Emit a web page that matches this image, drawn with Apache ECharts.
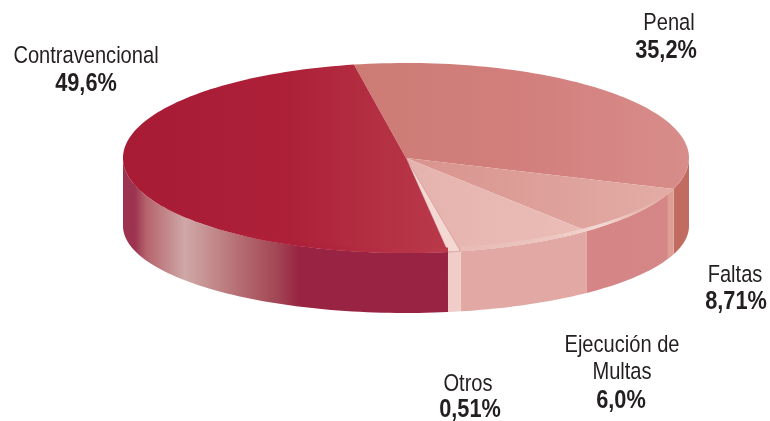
<!DOCTYPE html>
<html>
<head>
<meta charset="utf-8">
<style>html,body{margin:0;background:#fff}#chart{width:770px;height:421px}</style>
<script src="https://cdn.jsdelivr.net/npm/echarts@6/dist/echarts.min.js"></script>
</head>
<body>
<div id="chart"></div>
<script>
// clockwise from the top of the disc
const categories = ['Penal', 'Faltas', 'Ejecución de\nMultas', 'Otros', 'Contravencional'];
const values = [35.2, 8.71, 6.0, 0.51, 49.6];
const valueLabels = ['35,2%', '8,71%', '6,0%', '0,51%', '49,6%'];

// disc projection
const cx = 406, topY = 158, topRy = 95, rx = 283;
const bottomY = 226, bottomRy = 87;
const startAngle = -7.5, tiltWarp = 12;

const grad = (x, x2, stops) => ({
  type: 'linear', x: x, y: 0, x2: x2, y2: 0, global: true,
  colorStops: stops.map(s => ({ offset: s[0], color: s[1] }))
});

const topFill = [
  grad(358, 689, [[0, '#cd7c74'], [0.5, '#d27f7d'], [1, '#d88d8a']]),
  grad(406, 672, [[0, '#d9938d'], [1, '#e2aca5']]),
  grad(406, 585, [[0, '#e5b3ad'], [1, '#ebbdb7']]),
  '#f3d8d3',
  grad(123, 455, [[0, '#a81b35'], [0.5, '#ad2038'], [0.7, '#b22c40'], [1, '#b93a4b']])
];
const wallFill = [
  '#c26b61',
  grad(585, 672, [[0, '#d58585'], [0.94, '#d58686'], [0.96, '#dd9f95'], [1, '#dd9f95']]),
  '#e2a8a4',
  '#f0cdc8',
  grad(123, 453, [[0, '#9c3350'], [0.036, '#9c3350'], [0.07, '#b5636c'], [0.188, '#cfa8a7'], [0.264, '#c48d8e'],
    [0.364, '#b3696f'], [0.467, '#a24655'], [0.536, '#982342'], [1, '#992343']])
];
const rimFill = [
  null,
  grad(585, 672, [[0, '#f0d3ce'], [0.2, '#f2d9d4'], [0.6, '#e8b9b2'], [1, '#e0a9a2']]),
  grad(468, 585, [[0, '#e9bcb6'], [0.7, '#ecc6c0'], [1, '#f0d3ce']]),
  null,
  grad(300, 453, [[0, '#ad2038'], [1, '#bb3c4c']])
];

const labelFont = '24.5px "Liberation Sans", sans-serif';
const valueFont = 'bold 25px "Liberation Sans", sans-serif';
// name x, name y, value x, value y
const labelAt = [[669, 23, 666, 51], [735, 275, 736, 302], [622, 345, 621, 401], [468, 384, 470, 410], [86, 56, 86, 84]];

const rad = d => d * Math.PI / 180;
// flattened disc squeezes the angles a little
const view = t => t + tiltWarp * Math.sin(rad(2 * t));
const onEllipse = (t, y, ry) => [cx + rx * Math.sin(rad(t)), y - ry * Math.cos(rad(t))];

function arc(a, b, y, ry) {
  const pts = [];
  const n = Math.max(2, Math.ceil(Math.abs(b - a) / 1.5));
  for (let i = 0; i <= n; i++) pts.push(onEllipse(a + (b - a) * i / n, y, ry));
  return pts;
}

const total = values.reduce((a, b) => a + b, 0);

function renderSlice(params, api) {
  const i = params.dataIndex;
  let before = 0;
  for (let k = 0; k < i; k++) before += values[k];
  const a = view(startAngle + before / total * 360);
  const b = view(startAngle + (before + api.value(0)) / total * 360);
  const children = [];

  // outer wall, only the part facing the viewer
  const wa = Math.max(a, 90), wb = Math.min(b, 270);
  if (wb > wa) {
    children.push({
      type: 'polygon',
      shape: { points: arc(wa, wb, topY, topRy).concat(arc(wb, wa, bottomY, bottomRy)) },
      style: { fill: wallFill[i] }
    });
  }
  children.push({
    type: 'polygon',
    shape: { points: [[cx, topY]].concat(arc(a, b, topY, topRy)) },
    style: { fill: topFill[i], stroke: i === 3 ? '#c96f72' : null, lineWidth: 0.5 }
  });
  if (rimFill[i]) {
    const ra = a, rb = Math.min(b, 215);
    children.push({
      type: 'polygon',
      shape: { points: arc(ra, rb, topY, topRy).concat(arc(rb, ra, topY, topRy - 4.5)) },
      style: { fill: rimFill[i] }
    });
  }

  const lines = categories[i].split('\n');
  const at = labelAt[i];
  lines.forEach((line, n) => {
    children.push({
      type: 'text',
      x: at[0],
      y: at[1] + n * 27,
      scaleX: 0.82,
      style: { text: line, x: 0, y: 0, font: labelFont, fill: '#231f20', align: 'center', verticalAlign: 'middle' }
    });
  });
  children.push({
    type: 'text',
    x: at[2],
    y: at[3],
    scaleX: 0.87,
    style: { text: valueLabels[i], x: 0, y: 0, font: valueFont, fill: '#231f20', align: 'center', verticalAlign: 'middle' }
  });
  return { type: 'group', children: children };
}

const myChart = echarts.init(document.getElementById('chart'));
myChart.setOption({
  animation: false,
  series: [{
    type: 'custom',
    coordinateSystem: 'none',
    renderItem: renderSlice,
    data: values
  }]
});
</script>
</body>
</html>
